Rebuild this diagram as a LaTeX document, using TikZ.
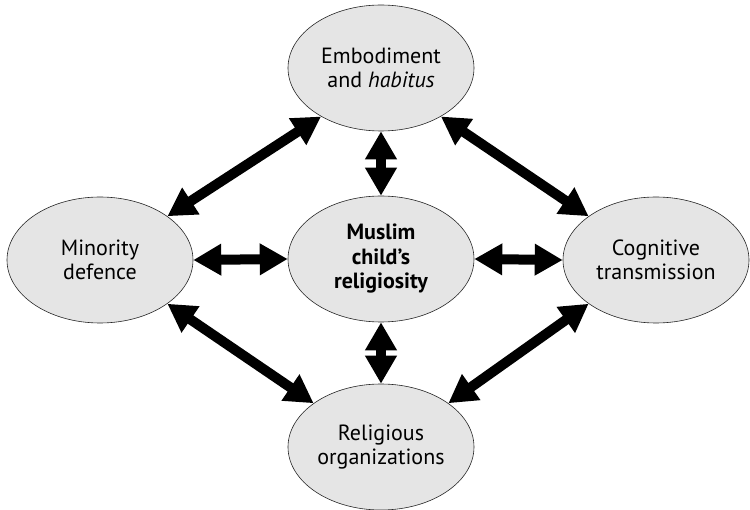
\documentclass[tikz,border=0pt]{standalone}
\usepackage{fontspec}
\setmainfont{PT Sans}
\usetikzlibrary{shapes.geometric,arrows.meta}
\begin{document}
\begin{tikzpicture}[x=1pt,y=-1pt,
  bubble/.style={ellipse, draw=black!85, line width=0.6pt, fill=black!10,
    minimum width=186pt, minimum height=126pt, inner sep=0pt,
    align=center, font=\fontsize{22pt}{24.5pt}\selectfont},
  link/.style={line width=10pt,
    {Triangle[length=28pt,width=30pt]}-{Triangle[length=28pt,width=30pt]}}]
\useasboundingbox (0,0) rectangle (750,510);
% the five themes
\node[bubble] (emb) at (381,68) {Embodiment\\and \textit{habitus}};
\node[bubble] (mid) at (381,259) {\textbf{Muslim}\\\textbf{child’s}\\\textbf{religiosity}};
\node[bubble] (rel) at (381,447) {Religious\\organizations};
\node[bubble] (min) at (100,260) {Minority\\defence};
\node[bubble] (cog) at (656,260) {Cognitive\\transmission};
% links to the centre
\draw[link] (emb.south) -- (mid.north);
\draw[link] (mid.south) -- (rel.north);
\draw[link] (min.east) -- (mid.west);
\draw[link] (mid.east) -- (cog.west);
% links round the outside
\draw[link] (emb.219) -- (min.33);
\draw[link] (emb.321) -- (cog.147);
\draw[link] (min.-33) -- (rel.147);
\draw[link] (cog.213) -- (rel.33);
\end{tikzpicture}
\end{document}
